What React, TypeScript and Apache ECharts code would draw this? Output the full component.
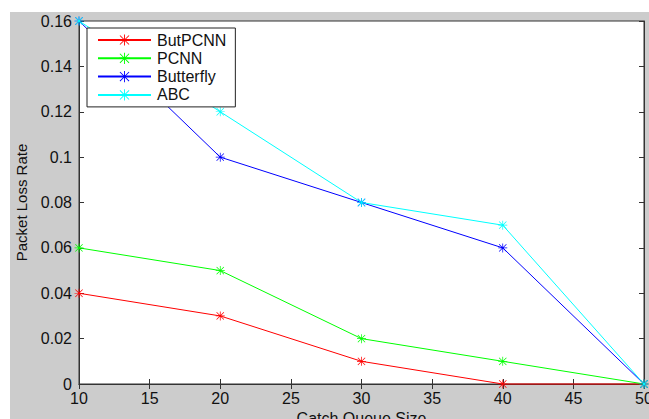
import React, { useEffect, useRef } from "react";
import * as echarts from "echarts";

const xValues = [10, 20, 30, 40, 50];
const seriesNames = ["ButPCNN", "PCNN", "Butterfly", "ABC"];
const butPCNN = [0.04, 0.03, 0.01, 0, 0];
const pcnn = [0.06, 0.05, 0.02, 0.01, 0];
const butterfly = [0.16, 0.1, 0.08, 0.06, 0];
const abc = [0.16, 0.12, 0.08, 0.07, 0];
const seriesColors = ["#ff0000", "#00ff00", "#0000ff", "#00ffff"];

const STAR =
  "path://M9.2,0 L10.8,0 L10.8,20 L9.2,20 Z M0,9.2 L20,9.2 L20,10.8 L0,10.8 Z M2.4,1.3 L18.7,17.6 L17.6,18.7 L1.3,2.4 Z M17.6,1.3 L18.7,2.4 L2.4,18.7 L1.3,17.6 Z";

const FONT = "Liberation Sans, Arial, sans-serif";

export default function App() {
  const ref = useRef<HTMLDivElement>(null);
  useEffect(() => {
    if (!ref.current) return;
    const chart = echarts.init(ref.current, undefined, { renderer: "svg" });
    const data = [butPCNN, pcnn, butterfly, abc];
    const axisLine = { show: true, lineStyle: { color: "#333", width: 1 } };
    chart.setOption({
      animation: false,
      backgroundColor: "#ffffff",
      graphic: [
        {
          type: "rect",
          z: -100,
          shape: { x: 10, y: 12, width: 639, height: 407 },
          style: { fill: "#cccccc" },
          silent: true,
        },
      ],
      grid: {
        left: 79,
        right: 5,
        top: 21,
        bottom: 35,
        containLabel: false,
        outerBoundsMode: "none",
        show: true,
        backgroundColor: "#ffffff",
        borderColor: "#333",
        borderWidth: 1,
      },
      legend: {
        orient: "vertical",
        left: 87,
        top: 28,
        width: 151,
        backgroundColor: "#ffffff",
        borderColor: "#222",
        borderWidth: 1,
        borderRadius: 0,
        padding: [4, 9, 4, 10],
        itemWidth: 53,
        itemHeight: 14,
        itemGap: 2.3,
        textStyle: { fontSize: 16, color: "#111", fontFamily: FONT, padding: [0, 0, 0, 1] },
        data: seriesNames,
      },
      xAxis: [
        {
          type: "value",
          min: 10,
          max: 50,
          interval: 5,
          name: "Catch Queue Size",
          nameLocation: "middle",
          nameGap: 21,
          nameTextStyle: { fontSize: 16, color: "#111", fontFamily: FONT },
          axisLine,
          axisTick: { show: true, inside: true, length: 5, lineStyle: { color: "#333" } },
          axisLabel: { fontSize: 16, color: "#111", fontFamily: FONT, margin: 6 },
          splitLine: { show: false },
        },
        {
          type: "value",
          position: "top",
          min: 10,
          max: 50,
          interval: 5,
          axisLine,
          axisTick: { show: true, inside: true, length: 5, lineStyle: { color: "#333" } },
          axisLabel: { show: false },
          splitLine: { show: false },
        },
      ],
      yAxis: [
        {
          type: "value",
          min: 0,
          max: 0.16,
          interval: 0.02,
          name: "Packet Loss Rate",
          nameLocation: "middle",
          nameGap: 50,
          nameTextStyle: { fontSize: 15, color: "#111", fontFamily: FONT },
          axisLine,
          axisTick: { show: true, inside: true, length: 5, lineStyle: { color: "#333" } },
          axisLabel: {
            fontSize: 16,
            color: "#111",
            fontFamily: FONT,
            margin: 7,
            formatter: (v: number) => String(parseFloat(v.toFixed(2))),
          },
          splitLine: { show: false },
        },
        {
          type: "value",
          position: "right",
          min: 0,
          max: 0.16,
          interval: 0.02,
          axisLine,
          axisTick: { show: true, inside: true, length: 5, lineStyle: { color: "#333" } },
          axisLabel: { show: false },
          splitLine: { show: false },
        },
      ],
      series: seriesNames.map((name, i) => ({
        name,
        type: "line",
        xAxisIndex: 0,
        yAxisIndex: 0,
        data: xValues.map((x, j) => [x, data[i][j]]),
        symbol: STAR,
        symbolSize: 9,
        showSymbol: true,
        clip: false,
        color: seriesColors[i],
        lineStyle: { color: seriesColors[i], width: 1 },
        itemStyle: { color: seriesColors[i] },
      })),
    });
    return () => chart.dispose();
  }, []);
  return (
    <div
      ref={ref}
      style={{ position: "fixed", left: 0, top: 0, width: 649, height: 419 }}
    />
  );
}
